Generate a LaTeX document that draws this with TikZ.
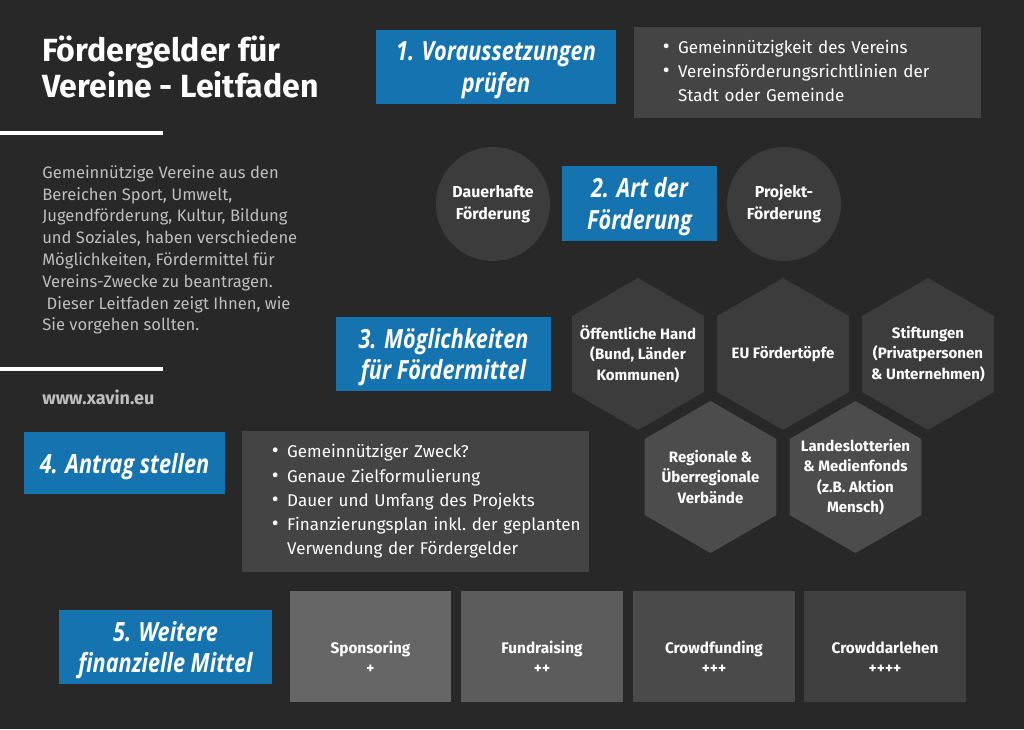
\documentclass[tikz,border=0pt]{standalone}
\usepackage{fontspec}
\setmainfont{Fira Sans}
\newfontfamily\stepfont[FakeStretch=0.82]{Open Sans}
\usetikzlibrary{shapes.geometric,positioning}
\definecolor{bggrau}{RGB}{40,40,40}
\definecolor{xblau}{RGB}{21,115,175}
\definecolor{kastengrau}{RGB}{68,68,68}
\definecolor{hexoben}{RGB}{60,60,60}
\definecolor{hexunten}{RGB}{76,76,76}
\definecolor{textgrau}{RGB}{190,190,190}
\newcommand{\punkt}{{\fontsize{15}{17}\selectfont•}}

\begin{document}
\begin{tikzpicture}[x=0.025cm, y=-0.025cm,
    stepbox/.style={fill=xblau, inner sep=0pt},
    steptext/.style={text=white, align=center, yshift=-0.08cm,
      font=\stepfont\bfseries\itshape\fontsize{18.8}{22.3}\selectfont},
    infobox/.style={fill=kastengrau, text=white, inner xsep=0.72cm, inner ysep=0pt,
      align=left, font=\fontsize{12.1}{17.2}\selectfont},
    rund/.style={circle, fill=hexoben, text=white, minimum size=2.85cm, inner sep=0pt,
      align=center, font=\bfseries\fontsize{11.3}{15.6}\selectfont},
    hexa/.style={regular polygon, regular polygon sides=6, shape border rotate=30,
      minimum size=3.8cm, inner sep=0pt},
    hexlabel/.style={text=white, align=center, font=\bfseries\fontsize{10.7}{14.6}\selectfont},
    mittel/.style={minimum width=4.025cm, minimum height=2.775cm},
    mitteltext/.style={text=white, align=center, yshift=-0.28cm,
      font=\bfseries\fontsize{10.9}{14.3}\selectfont},
    strich/.style={white, line width=2.8pt}]

  % Hintergrund
  \fill[bggrau] (0,0) rectangle (1024,729);
  \useasboundingbox (0,0) rectangle (1024,729);

  % linke Spalte
  \node[anchor=north west, text=white, align=left, inner sep=0pt,
    font=\bfseries\fontsize{22.8}{25.3}\selectfont] (titel) at (42,36)
    {Fördergelder für\\Vereine - Leitfaden};
  \coordinate (l1a) at (0,133);
  \coordinate (l1b) at (163,133);
  \draw[strich] (l1a) -- (l1b);
  \node[anchor=north west, text=textgrau, align=left, inner sep=0pt,
    font=\fontsize{11.8}{15.5}\selectfont] (intro) at (42,165)
    {Gemeinnützige Vereine aus den\\Bereichen Sport, Umwelt,\\Jugendförderung, Kultur, Bildung\\und Soziales, haben verschiedene\\Möglichkeiten, Fördermittel für\\Vereins-Zwecke zu beantragen.\\\ Dieser Leitfaden zeigt Ihnen, wie\\Sie vorgehen sollten.};
  \coordinate (l2a) at (0,369);
  \coordinate (l2b) at (163,369);
  \draw[strich] (l2a) -- (l2b);
  \node[anchor=west, text=textgrau, inner sep=0pt, font=\bfseries\fontsize{12.8}{14}\selectfont]
    (web) at (42,397) {www.xavin.eu};

  % 1. Voraussetzungen
  \node[stepbox, minimum width=6cm, minimum height=1.85cm,
    label={[steptext]center:1. Voraussetzungen\\prüfen}] (s1) at (496,67) {};
  \node[infobox, minimum width=8.675cm, minimum height=2.275cm, text width=7.235cm] (k1) at (807.5,72.5)
    {\begin{tabular}{@{}l@{\hspace{6pt}}l@{}}
      \punkt & Gemeinnützigkeit des Vereins\\
      \punkt & Vereinsförderungsrichtlinien der\\
             & Stadt oder Gemeinde
     \end{tabular}};

  % 2. Art der Foerderung
  \node[rund] (dauer) at (493,204) {Dauerhafte\\Förderung};
  \node[rund] (projekt) at (784,204) {Projekt-\\Förderung};
  \node[stepbox, minimum width=3.875cm, minimum height=1.875cm,
    label={[steptext]center:2. Art der\\Förderung}] (s2) at (639.5,203.5) {};

  % 3. Moeglichkeiten
  \node[stepbox, minimum width=5.375cm, minimum height=1.85cm,
    label={[steptext]center:3. Möglichkeiten\\für Fördermittel}] (s3) at (443.5,354) {};
  \node[hexa, fill=hexoben, label={[hexlabel]center:Öffentliche Hand\\(Bund, Länder\\Kommunen)}] (oeff) at (638,354) {};
  \node[hexa, fill=hexoben, label={[hexlabel]center:EU Fördertöpfe}] (eu) at (783,354) {};
  \node[hexa, fill=hexoben, label={[hexlabel]center:Stiftungen\\(Privatpersonen\\\& Unternehmen)}] (stift) at (928,354) {};
  \node[hexa, fill=hexunten, label={[hexlabel]center:Regionale \&\\Überregionale\\Verbände}] (verb) at (710.5,477) {};
  \node[hexa, fill=hexunten, label={[hexlabel]center:Landeslotterien\\\& Medienfonds\\(z.B.\ Aktion\\Mensch)}] (lotto) at (855.5,477) {};

  % 4. Antrag
  \node[stepbox, minimum width=5.025cm, minimum height=1.55cm,
    label={[steptext]center:4. Antrag stellen}] (s4) at (124.5,463) {};
  \node[infobox, minimum width=8.675cm, minimum height=3.525cm, text width=7.175cm] (k4) at (415.5,501.5)
    {\begin{tabular}{@{}l@{\hspace{6pt}}l@{}}
      \punkt & Gemeinnütziger Zweck?\\
      \punkt & Genaue Zielformulierung\\
      \punkt & Dauer und Umfang des Projekts\\
      \punkt & Finanzierungsplan inkl.\ der geplanten\\
             & Verwendung der Fördergelder
     \end{tabular}};

  % 5. Weitere Mittel
  \node[stepbox, minimum width=5.325cm, minimum height=1.85cm,
    label={[steptext]center:5. Weitere\\finanzielle Mittel}] (s5) at (165.5,647) {};
  \node[mittel, fill={rgb,255:red,102;green,102;blue,102}, label={[mitteltext]center:Sponsoring\\+}] (spons) at (370.5,646.5) {};
  \node[mittel, fill={rgb,255:red,92;green,92;blue,92}, label={[mitteltext]center:Fundraising\\++}] (fund) at (542,646.5) {};
  \node[mittel, fill={rgb,255:red,74;green,74;blue,74}, label={[mitteltext]center:Crowdfunding\\+++}] (crowdf) at (714,646.5) {};
  \node[mittel, fill={rgb,255:red,64;green,64;blue,64}, label={[mitteltext]center:Crowddarlehen\\++++}] (crowdd) at (885,646.5) {};
\end{tikzpicture}
\end{document}
